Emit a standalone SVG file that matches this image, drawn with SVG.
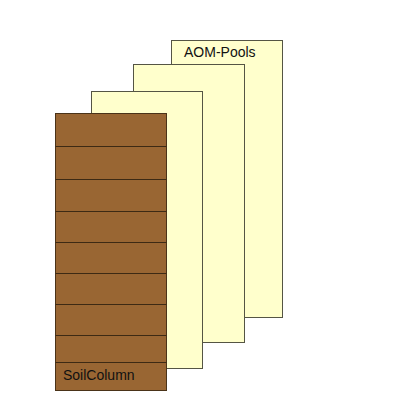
<svg xmlns="http://www.w3.org/2000/svg" width="400" height="413" viewBox="0 0 400 413">
<style>
.pool{fill:#ffffcc;stroke:#555544;stroke-width:1}
.soil{fill:#996633;stroke:#4a3319;stroke-width:1}
.layer{stroke:#3d2a14;stroke-width:1}
text{font-family:"Liberation Sans",Arial,sans-serif;font-size:14px;fill:#111}
</style>
<rect width="400" height="413" fill="#ffffff"/>
<g id="pool3"><rect class="pool" x="171.5" y="40.5" width="111" height="277"/><text x="184" y="57">AOM-Pools</text></g>
<g id="pool2"><rect class="pool" x="133.5" y="64.5" width="111" height="278"/></g>
<g id="pool1"><rect class="pool" x="91.5" y="91.5" width="111" height="277"/></g>
<g id="soilcolumn">
<rect class="soil" x="55.5" y="113.5" width="111" height="277"/>
<g class="layer">
<line x1="55.5" y1="146.5" x2="166.5" y2="146.5"/>
<line x1="55.5" y1="179.5" x2="166.5" y2="179.5"/>
<line x1="55.5" y1="211.5" x2="166.5" y2="211.5"/>
<line x1="55.5" y1="242.5" x2="166.5" y2="242.5"/>
<line x1="55.5" y1="273.5" x2="166.5" y2="273.5"/>
<line x1="55.5" y1="304.5" x2="166.5" y2="304.5"/>
<line x1="55.5" y1="335.5" x2="166.5" y2="335.5"/>
<line x1="55.5" y1="362.5" x2="166.5" y2="362.5"/>
</g>
<text x="63" y="380">SoilColumn</text>
</g>
</svg>
